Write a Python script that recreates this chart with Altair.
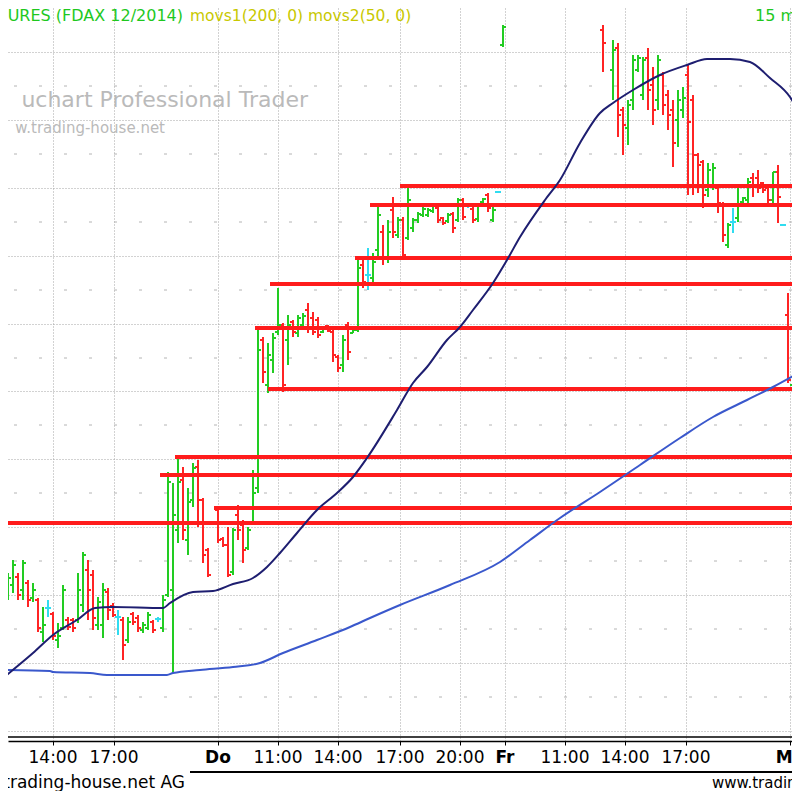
import altair as alt
import pandas as pd

# ---------------- data (15-minute bars, slot = bar index; Mi 14:00 = 0) ----------------
slot = [-9, -8, -7, -6, -5, -4, -3, -2, -1, 0, 1, 2, 3, 4, 5, 6, 7, 8, 9, 10,
        11, 12, 13, 14, 15, 16, 17, 18, 19, 20, 21, 22,
        23, 24, 25, 26, 27, 28, 29, 30, 31, 33, 34, 35, 36, 37, 38, 39, 40, 41,
        42, 43, 44, 45, 46, 47, 48, 49, 50, 51, 52, 53, 54, 55, 56, 57, 58, 59,
        60, 61, 62, 63, 64, 65, 66, 67, 68, 69, 70, 71, 72, 73, 74, 75, 76, 77,
        78, 79, 80, 81, 82, 83, 84, 85, 86, 87, 88, 89, 90,
        110, 112, 113, 114, 115, 116, 117, 118, 119, 120, 121, 122, 123, 124, 125,
        126, 127, 128, 129, 130, 131, 132, 133, 134, 135, 136, 137, 138, 139, 140,
        141, 142, 143, 144, 145, 146,
        147, 148]

open_ = [9405, 9415, 9423, 9410, 9417, 9402, 9400, 9368, 9392, 9386, 9360, 9372, 9380, 9380, 9380, 9395, 9430, 9425, 9375, 9375,
         9408, 9394, 9383, 9380, 9360, 9386, 9382, 9370, 9372, 9378, 9381, 9372,
         9405, 9410, 9470, 9520, 9460, 9500, 9533, 9500, 9450, 9490, 9461, 9455, 9428, 9485, 9475, 9452, 9477, 9512,
         9660, 9615, 9640, 9668, 9675, 9660, 9678, 9667, 9675, 9690, 9682, 9680, 9668, 9674, 9668, 9643, 9635, 9675,
         9667, 9670, 9735, 9725, 9722, 9750, 9768, 9742, 9790, 9765, 9780, 9762, 9772, 9780, 9785, 9785, 9789, 9792,
         9782, 9779, 9786, 9780, 9800, 9795, 9791, 9781, 9798, 9805, 9780, 9808, 9955,
         9970, 9930, 9952, 9890, 9872, 9900, 9930, 9905, 9942, 9915, 9900, 9925, 9905, 9890, 9880,
         9890, 9925, 9900, 9845, 9838, 9810, 9815, 9812, 9795, 9755, 9778, 9782, 9798, 9800, 9822,
         9822, 9817, 9812, 9800, 9828, 9775,
         9685, 9615]

high = [9427, 9440, 9427, 9440, 9420, 9417, 9402, 9393, 9400, 9388, 9377, 9415, 9383, 9382, 9427, 9448, 9440, 9430, 9403, 9417,
        9412, 9397, 9390, 9383, 9383, 9388, 9385, 9378, 9388, 9380, 9383, 9405,
        9528, 9517, 9543, 9533, 9512, 9537, 9540, 9502, 9452, 9492, 9463, 9473, 9472, 9495, 9480, 9473, 9530, 9672,
        9663, 9657, 9667, 9712, 9677, 9685, 9680, 9685, 9687, 9697, 9688, 9683, 9673, 9675, 9670, 9645, 9665, 9678,
        9670, 9740, 9740, 9752, 9747, 9795, 9775, 9780, 9803, 9783, 9783, 9813, 9782, 9788, 9793, 9792, 9797, 9793,
        9783, 9787, 9788, 9802, 9802, 9797, 9793, 9797, 9802, 9807, 9793, 9809, 9975,
        9975, 9960, 9957, 9893, 9900, 9945, 9945, 9943, 9952, 9933, 9945, 9928, 9910, 9900, 9910,
        9913, 9935, 9905, 9847, 9840, 9837, 9837, 9815, 9798, 9777, 9792, 9812, 9803, 9822, 9827,
        9830, 9818, 9815, 9828, 9835, 9776,
        9707, 9633]

low = [9400, 9407, 9400, 9400, 9393, 9398, 9368, 9358, 9383, 9360, 9352, 9370, 9370, 9368, 9377, 9388, 9380, 9370, 9370, 9362,
       9380, 9383, 9365, 9340, 9357, 9375, 9368, 9367, 9370, 9367, 9378, 9368,
       9403, 9327, 9457, 9460, 9445, 9493, 9473, 9437, 9423, 9457, 9453, 9423, 9425, 9460, 9437, 9450, 9475, 9507,
       9617, 9607, 9627, 9665, 9608, 9635, 9663, 9663, 9672, 9667, 9665, 9662, 9667, 9668, 9638, 9628, 9628, 9640,
       9667, 9668, 9712, 9710, 9718, 9743, 9735, 9737, 9762, 9762, 9743, 9760, 9768, 9777, 9783, 9783, 9787, 9777,
       9775, 9777, 9767, 9778, 9780, 9792, 9777, 9778, 9797, 9788, 9778, 9807, 9953,
       9928, 9900, 9863, 9845, 9855, 9890, 9928, 9900, 9890, 9875, 9890, 9885, 9870, 9833, 9853,
       9882, 9805, 9805, 9807, 9792, 9803, 9810, 9787, 9758, 9752, 9767, 9778, 9797, 9797, 9803,
       9807, 9807, 9795, 9797, 9777, 9774,
       9617, 9595]

close = [9422, 9435, 9405, 9437, 9400, 9410, 9372, 9375, 9392, 9364, 9364, 9410, 9373, 9372, 9410, 9445, 9410, 9382, 9398, 9410,
         9390, 9385, 9383, 9355, 9378, 9378, 9372, 9375, 9385, 9370, 9381, 9400,
         9518, 9485, 9518, 9470, 9498, 9532, 9500, 9445, 9425, 9460, 9455, 9425, 9470, 9470, 9450, 9470, 9507, 9650,
         9628, 9645, 9662, 9675, 9615, 9675, 9668, 9682, 9684, 9672, 9668, 9665, 9672, 9669, 9645, 9632, 9660, 9648,
         9670, 9732, 9718, 9725, 9738, 9785, 9742, 9768, 9768, 9780, 9745, 9800, 9780, 9786, 9791, 9790, 9795, 9780,
         9777, 9785, 9772, 9800, 9783, 9795, 9780, 9795, 9801, 9792, 9790, 9808, 9973,
         9957, 9950, 9885, 9875, 9895, 9940, 9942, 9940, 9910, 9890, 9940, 9895, 9885, 9857, 9900,
         9902, 9878, 9845, 9835, 9805, 9830, 9832, 9797, 9765, 9775, 9778, 9795, 9802, 9818, 9815,
         9812, 9810, 9800, 9828, 9803, 9775,
         9620, 9630]

# moving averages
movs2_slot = [-10, -4, 0, 4.8, 8.4, 12, 22, 23.4, 28, 32, 36, 40, 42.8, 45.4, 48.8, 52.8, 56.8, 60, 62.8,
              68.8, 72, 74.8, 78.8, 81.4, 84, 88, 90.8, 93.4, 98.4, 101.4, 105.4, 109.4, 112, 116, 121.4,
              126.8, 130.8, 135.4, 139.4, 143.4, 147.4, 148.4]
movs2_val = [9322, 9347, 9365, 9380, 9392, 9393, 9392, 9397, 9408, 9409, 9416, 9422, 9433, 9447, 9467, 9490, 9507, 9523, 9542,
             9590, 9617, 9633, 9660, 9673, 9690, 9717, 9740, 9763, 9800, 9820, 9857, 9887, 9897, 9910, 9925,
             9935, 9941, 9941, 9938, 9922, 9903, 9895]

movs1_slot = [-10.6, -0.6, 0, 7.4, 10.8, 22.8, 24, 29.4, 36, 41.4, 46, 52.8, 59.4, 63.4, 69.4, 79.4, 89.4,
              95.4, 101.4, 109.4, 117.4, 125.4, 132, 138.8, 144, 148.4]
movs1_val = [9330, 9329, 9328, 9327, 9325, 9325, 9327, 9330, 9333, 9337, 9347, 9360, 9373, 9382, 9395, 9415, 9438,
             9460, 9482, 9508, 9535, 9562, 9583, 9600, 9613, 9625]

# horizontal support / resistance lines
level_start = [69.4, 63.4, 60.4, 43.4, 40.4, 43, 24.4, 21.4, 32.2, -9]
level_price = [9814, 9795, 9742, 9716, 9672, 9611, 9543, 9525, 9492, 9477]

# grid
grid_major = [9948, 9880, 9812, 9744, 9676, 9609, 9541, 9473, 9405, 9337, 9269]
grid_minor = [9914, 9846, 9778, 9710, 9642, 9575, 9507, 9439, 9371, 9303]

tick_pos = [0, 12.2, 33, 45, 57, 69.4, 81.4, 90.4, 102.4, 114.4, 126.6, 147.4]
tick_text = ["14:00", "17:00", "Do", "11:00", "14:00", "17:00", "20:00", "Fr", "11:00", "14:00", "17:00", "Mo"]
tick_day = [False, False, True, False, False, False, False, True, False, False, False, True]

# ---------------- chart ----------------
W, H = 784, 733
XMIN = -9
XMAX = XMIN + W / 5.0
YMIN, YMAX = 9259, 9992
FONT = "DejaVu Sans"
GREEN, RED, CYAN = "#22cc22", "#ff2424", "#30dcf0"

xs = alt.Scale(domain=[XMIN, XMAX], nice=False, zero=False)
ys = alt.Scale(domain=[YMIN, YMAX], nice=False, zero=False)
XAX = alt.Axis(values=tick_pos, grid=True, gridDash=[1, 2], gridColor="#a4a4a4",
               labels=False, ticks=True, tickSize=4, tickColor="black",
               domain=True, domainColor="black", domainWidth=1.5, title=None)
YAX = alt.Axis(values=grid_major, grid=True, gridDash=[1, 2], gridColor="#a4a4a4",
               labels=False, ticks=False, domain=False, title=None)


def X(f):
    return alt.X(f, scale=xs, axis=XAX)


def Y(f):
    return alt.Y(f, scale=ys, axis=YAX)


bars = pd.DataFrame({"slot": slot, "open": open_, "high": high, "low": low, "close": close})
base = alt.Chart(bars).transform_calculate(
    dir="datum.close > datum.open ? 'up' : (datum.close < datum.open ? 'down' : 'flat')",
    xo="datum.slot - 0.6",
    xc="datum.slot + 0.6",
)
col = alt.Color("dir:N", scale=alt.Scale(domain=["up", "down", "flat"], range=[GREEN, RED, CYAN]), legend=None)

hl = base.mark_rule(strokeWidth=2, clip=True).encode(x=X("slot:Q"), y=Y("low:Q"), y2="high:Q", color=col)
op = base.mark_rule(strokeWidth=2, clip=True).encode(x=X("xo:Q"), x2="slot:Q", y=Y("open:Q"), color=col)
cl = base.mark_rule(strokeWidth=2, clip=True).encode(x=X("slot:Q"), x2="xc:Q", y=Y("close:Q"), color=col)

minor = alt.Chart(pd.DataFrame({"p": grid_minor})).mark_rule(
    color="#b4b4b4", strokeDash=[3, 22], strokeWidth=1).encode(y=Y("p:Q"))

levels = alt.Chart(pd.DataFrame({"s": level_start, "p": level_price})).transform_calculate(
    e=str(XMAX)).mark_rule(color="#ff1c1c", strokeWidth=4, clip=True).encode(
    x=X("s:Q"), x2="e:Q", y=Y("p:Q"))

ma2 = alt.Chart(pd.DataFrame({"s": movs2_slot, "v": movs2_val})).mark_line(
    color="#1e1e70", strokeWidth=2, clip=True, interpolate="monotone").encode(
    x=X("s:Q"), y=Y("v:Q"), order="s:Q")
ma1 = alt.Chart(pd.DataFrame({"s": movs1_slot, "v": movs1_val})).mark_line(
    color="#3a58cc", strokeWidth=2, clip=True, interpolate="monotone").encode(
    x=X("s:Q"), y=Y("v:Q"), order="s:Q")

ticks_df = pd.DataFrame({"pos": tick_pos, "lab": tick_text, "day": tick_day})
lab_time = alt.Chart(ticks_df).transform_filter("!datum.day").mark_text(
    font=FONT, fontSize=17, baseline="middle", align="center", color="black").encode(
    x=X("pos:Q"), y=alt.value(749.5), text="lab:N")
lab_day = alt.Chart(ticks_df).transform_filter("datum.day").mark_text(
    font=FONT, fontSize=17, fontWeight="bold", baseline="middle", align="center", color="black").encode(
    x=X("pos:Q"), y=alt.value(749.5), text="lab:N")

one = pd.DataFrame({"a": [0]})
axis2 = alt.Chart(one).mark_rule(color="black", strokeWidth=1.5).encode(
    x=alt.value(0), x2=alt.value(W), y=alt.value(729))
underline = alt.Chart(one).mark_rule(color="black", strokeWidth=2).encode(
    x=alt.value(182), x2=alt.value(W), y=alt.value(764))


def label(txt, **kw):
    return alt.Chart(pd.DataFrame({"t": [txt]})).mark_text(font=FONT, **kw).encode(text="t:N")


t_title = label("URES (FDAX 12/2014)", x=175, y=13, align="right", baseline="alphabetic", fontSize=16, color="#1ec81e")
t_movs = label("movs1(200, 0) movs2(50, 0)", x=182, y=13, align="left", baseline="alphabetic", fontSize=15.5, color="#c8c800")
t_per = label("15 min", x=747, y=13, align="left", baseline="alphabetic", fontSize=16, color="#1ec81e")
t_wm1 = label("uchart Professional Trader", x=300, y=99, align="right", baseline="alphabetic", fontSize=22, color="#bababa")
t_wm2 = label("w.trading-house.net", x=157, y=125, align="right", baseline="alphabetic", fontSize=15, color="#bababa")
t_foot1 = label("trading-house.net AG", x=177, y=780, align="right", baseline="alphabetic", fontSize=17, color="black")
t_foot2 = label("www.trading-house.net", x=704, y=780, align="left", baseline="alphabetic", fontSize=15, color="black")

chart = alt.layer(
    hl, minor, op, cl, levels, ma1, ma2,
    lab_time, lab_day, axis2, underline,
    t_title, t_movs, t_per, t_wm1, t_wm2, t_foot1, t_foot2,
).properties(
    width=W, height=H, autosize=alt.AutoSizeParams(type="none"),
    padding={"left": 0, "top": 0, "right": 0, "bottom": 50},
    background="white",
).configure_view(strokeWidth=0)

chart.save("out.html", embed_options={"renderer": "svg", "actions": False})
